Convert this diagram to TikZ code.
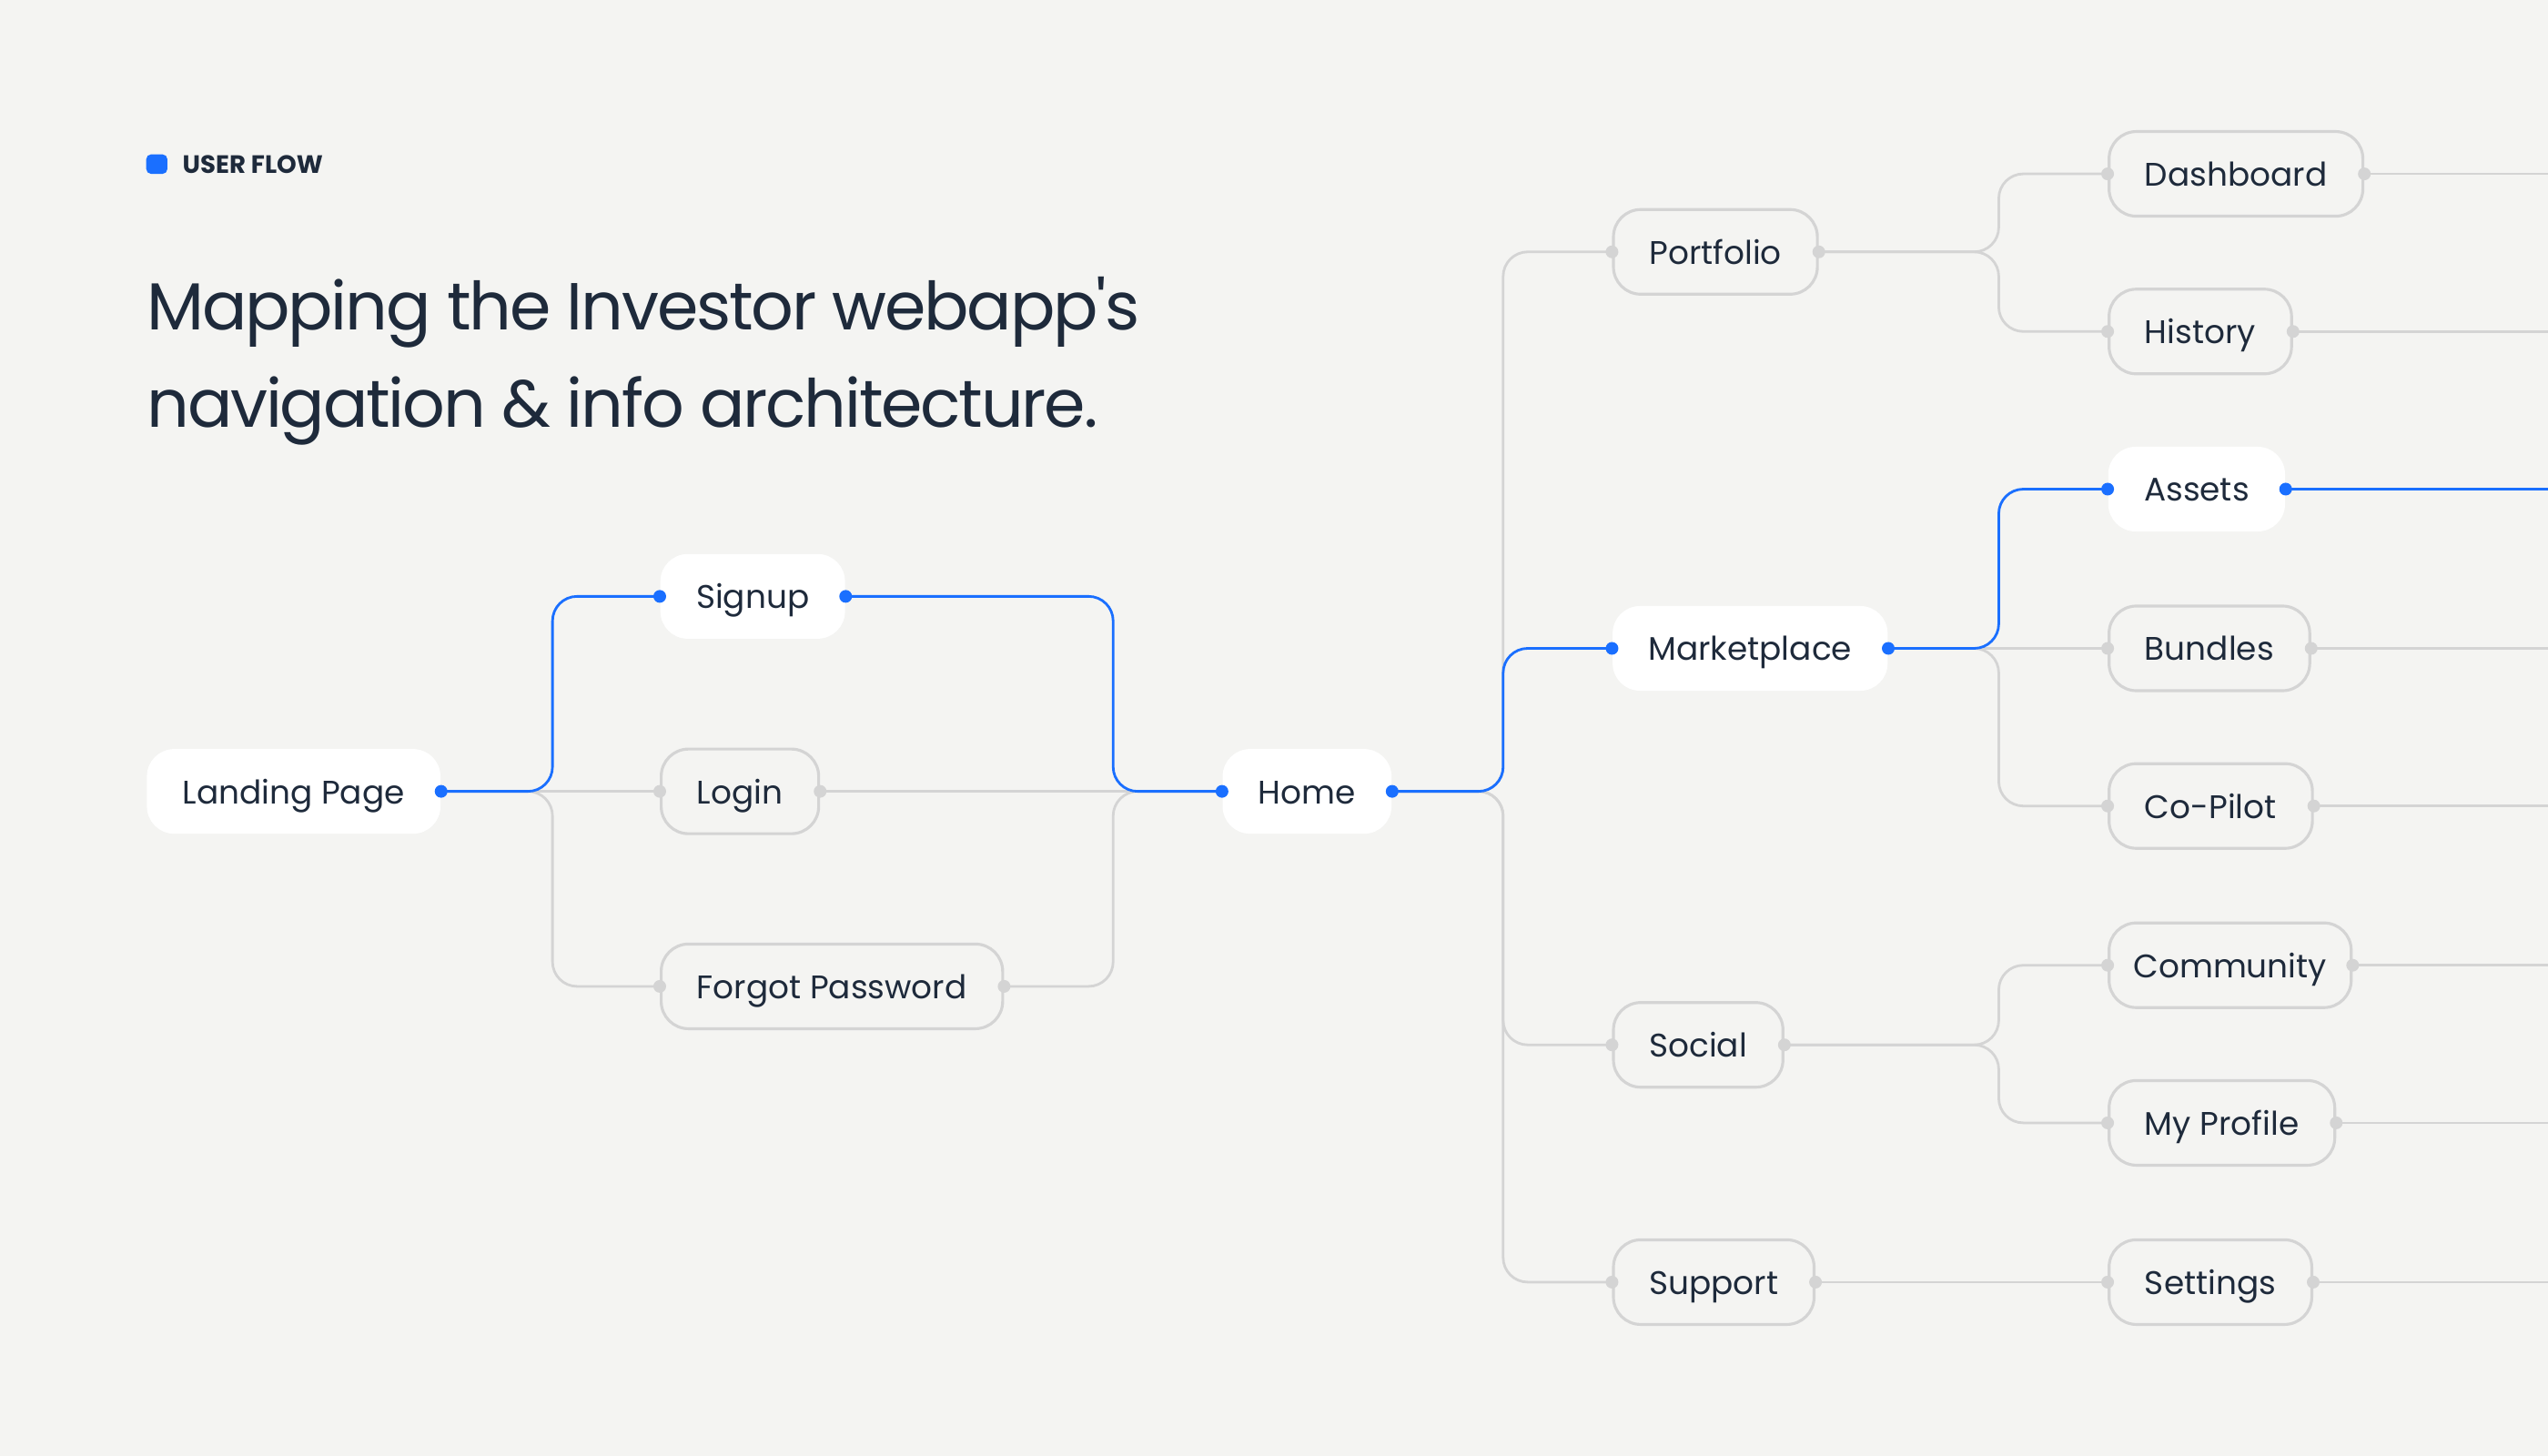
\documentclass[tikz,border=0pt]{standalone}
\usepackage{fontspec}
\setmainfont{Poppins}
\newfontfamily\titlefont{Poppins}[Ligatures=TeXOff, LetterSpace=-3]
\usetikzlibrary{calc}
\definecolor{bgc}{HTML}{F4F4F2}
\definecolor{accent}{HTML}{1A6FFF}
\definecolor{lgray}{HTML}{D4D4D4}
\definecolor{ink}{HTML}{1E2A3B}
\begin{document}
\begin{tikzpicture}[x=0.017857cm, y=-0.017857cm,
  box/.style={rounded corners=0.3cm, minimum height=0.93cm, inner xsep=0.393cm, inner ysep=0pt,
    text height=0.76em, text depth=0pt, font=\fontsize{10.2}{12}\selectfont, text=ink, anchor=west},
  hot/.style={box, fill=white},
  cold/.style={box, draw=lgray, line width=0.9pt, fill=bgc},
  bl/.style={draw=accent, line width=0.8pt, rounded corners=0.27cm},
  gl/.style={draw=lgray, line width=0.8pt, rounded corners=0.27cm},
  bdot/.style={fill=accent},
  gdot/.style={fill=lgray}]
\fill[bgc] (0,0) rectangle (1568,896);
\useasboundingbox (0,0) rectangle (1568,896);
% header
\fill[accent, rounded corners=1.5pt] (90,95) rectangle (103,107);
\node[anchor=base west, inner sep=0pt, font=\bfseries\fontsize{7.85}{10}\selectfont, text=ink] (uf) at (112,106.5) {USER FLOW};
\node[anchor=base west, inner sep=0pt, font=\titlefont\fontsize{20.8}{28}\selectfont, text=ink] (t1) at (90,203) {Mapping the Investor webapp's};
\node[anchor=base west, inner sep=0pt, font=\titlefont\fontsize{20.8}{28}\selectfont, text=ink] (t2) at (90,263) {navigation \& info architecture.};
% bus coordinates
\coordinate (b1) at (340,0);
\coordinate (b2) at (685,0);
\coordinate (b3) at (925,0);
\coordinate (b4) at (1230,0);
\coordinate (edge) at (1575,0);
% nodes
\node[hot] (land) at (90,487) {Landing Page};
\node[hot] (sig) at (406,367) {Signup};
\node[cold] (login) at (406,487) {Login};
\node[cold] (fp) at (406,607) {Forgot Password};
\node[hot] (home) at (752,487) {Home};
\node[cold] (port) at (992,155) {Portfolio};
\node[hot] (mkt) at (992,399) {Marketplace};
\node[cold] (soc) at (992,643) {Social};
\node[cold] (sup) at (992,789) {Support};
\node[cold] (dash) at (1297,107) {Dashboard};
\node[cold] (hist) at (1297,204) {History};
\node[hot] (asset) at (1297,301) {Assets};
\node[cold] (bund) at (1297,399) {Bundles};
\node[cold] (cop) at (1297,496) {Co-Pilot};
\node[cold, inner xsep=0.268cm] (comm) at (1297,594) {Community};
\node[cold] (prof) at (1297,691) {My Profile};
\node[cold] (sett) at (1297,789) {Settings};
% gray connectors
\draw[gl] (land.east) -- (login.west);
\draw[gl] (land.east) -- (land.east -| b1) -- (fp.west -| b1) -- (fp.west);
\draw[gl] (login.east) -- (home.west);
\draw[gl] (fp.east) -- (fp.east -| b2) -- (home.west -| b2) -- (home.west);
\draw[gl] (home.east) -- (home.east -| b3) -- (port.west -| b3) -- (port.west);
\draw[gl] (home.east) -- (home.east -| b3) -- (soc.west -| b3) -- (soc.west);
\draw[gl] (home.east) -- (home.east -| b3) -- (sup.west -| b3) -- (sup.west);
\draw[gl] (port.east) -- (port.east -| b4) -- (dash.west -| b4) -- (dash.west);
\draw[gl] (port.east) -- (port.east -| b4) -- (hist.west -| b4) -- (hist.west);
\draw[gl] (mkt.east) -- (bund.west);
\draw[gl] (mkt.east) -- (mkt.east -| b4) -- (cop.west -| b4) -- (cop.west);
\draw[gl] (soc.east) -- (soc.east -| b4) -- (comm.west -| b4) -- (comm.west);
\draw[gl] (soc.east) -- (soc.east -| b4) -- (prof.west -| b4) -- (prof.west);
\draw[gl] (sup.east) -- (sett.west);
\foreach \n in {dash,hist,bund,cop,comm,prof,sett}{
  \draw[gl] (\n.east) -- (\n.east -| edge);
}
% blue connectors
\draw[bl] (land.east) -- (land.east -| b1) -- (sig.west -| b1) -- (sig.west);
\draw[bl] (sig.east) -- (sig.east -| b2) -- (home.west -| b2) -- (home.west);
\draw[bl] (home.east) -- (home.east -| b3) -- (mkt.west -| b3) -- (mkt.west);
\draw[bl] (mkt.east) -- (mkt.east -| b4) -- (asset.west -| b4) -- (asset.west);
\draw[bl] (asset.east) -- (asset.east -| edge);
% dots
\foreach \p in {land.east,sig.west,sig.east,home.west,home.east,mkt.west,mkt.east,asset.west,asset.east}{
  \fill[bdot] (\p) circle (0.07cm);
}
\foreach \n in {login,fp,port,soc,sup,dash,hist,bund,cop,comm,prof,sett}{
  \fill[gdot] (\n.west) circle (0.07cm);
  \fill[gdot] (\n.east) circle (0.07cm);
}
\end{tikzpicture}
\end{document}
